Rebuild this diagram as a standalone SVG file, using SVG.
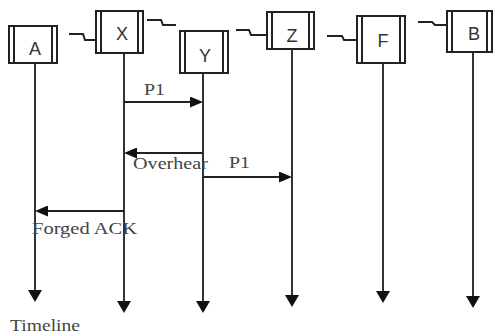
<svg xmlns="http://www.w3.org/2000/svg" width="493" height="334" viewBox="0 0 493 334">
<style>
.box{fill:#fff;stroke:#222;stroke-width:2}
.bar{stroke:#222;stroke-width:2}
.lbl{font-family:"Liberation Sans",Arial,sans-serif;font-size:18px;fill:#333;text-anchor:middle}
.life{stroke:#333;stroke-width:2;fill:none}
.msg{stroke:#222;stroke-width:2;fill:none}
.wig{stroke:#222;stroke-width:2;fill:none}
.mt{font-family:"Liberation Serif","Times New Roman",serif;font-size:16.5px;fill:#444}
</style>
<defs>
<marker id="tl" viewBox="0 0 12 14" refX="6" refY="7" markerWidth="12" markerHeight="14" markerUnits="userSpaceOnUse" orient="auto"><path d="M0,0 L12,7 L0,14 z" fill="#111"/></marker>
<marker id="ma" viewBox="0 0 13 11" refX="6" refY="5.5" markerWidth="13" markerHeight="11" markerUnits="userSpaceOnUse" orient="auto"><path d="M0,0 L13,5.5 L0,11 z" fill="#111"/></marker>
</defs>
<rect width="493" height="334" fill="#fff"/>
<g id="lifelines">
<line class="life" x1="35" y1="63" x2="35" y2="296" marker-end="url(#tl)"/>
<line class="life" x1="124" y1="53" x2="124" y2="307" marker-end="url(#tl)"/>
<line class="life" x1="203" y1="73" x2="203" y2="307" marker-end="url(#tl)"/>
<line class="life" x1="292" y1="49" x2="292" y2="301" marker-end="url(#tl)"/>
<line class="life" x1="383" y1="63" x2="383" y2="297" marker-end="url(#tl)"/>
<line class="life" x1="473" y1="52" x2="473" y2="302" marker-end="url(#tl)"/>
</g>
<g id="node-A"><rect class="box" x="9" y="26" width="48" height="37"/><line class="bar" x1="14" y1="26" x2="14" y2="63"/><line class="bar" x1="52" y1="26" x2="52" y2="63"/><text class="lbl" x="35" y="55">A</text></g>
<g id="node-X"><rect class="box" x="96" y="11" width="47" height="42"/><line class="bar" x1="101" y1="11" x2="101" y2="53"/><line class="bar" x1="138" y1="11" x2="138" y2="53"/><text class="lbl" x="122" y="40">X</text></g>
<g id="node-Y"><rect class="box" x="180" y="31" width="48" height="42"/><line class="bar" x1="185" y1="31" x2="185" y2="73"/><line class="bar" x1="223" y1="31" x2="223" y2="73"/><text class="lbl" x="205" y="62">Y</text></g>
<g id="node-Z"><rect class="box" x="267" y="12" width="47" height="37"/><line class="bar" x1="272" y1="12" x2="272" y2="49"/><line class="bar" x1="309" y1="12" x2="309" y2="49"/><text class="lbl" x="292" y="42">Z</text></g>
<g id="node-F"><rect class="box" x="357" y="16" width="48" height="47"/><line class="bar" x1="362" y1="16" x2="362" y2="63"/><line class="bar" x1="400" y1="16" x2="400" y2="63"/><text class="lbl" x="383" y="47">F</text></g>
<g id="node-B"><rect class="box" x="447" y="11" width="45" height="41"/><line class="bar" x1="452" y1="11" x2="452" y2="52"/><line class="bar" x1="487" y1="11" x2="487" y2="52"/><text class="lbl" x="474" y="40">B</text></g>
<g id="links">
<path class="wig" d="M69,34 H83 L85,40 H96"/>
<path class="wig" d="M147,20 H161 L163,25 H176"/>
<path class="wig" d="M236,30 H249 L251,35 H267"/>
<path class="wig" d="M327,36 H342 L344,40 H357"/>
<path class="wig" d="M418,22 H432 L435,25 H447"/>
</g>
<g id="connectors">
<line class="msg" x1="124" y1="102" x2="196" y2="102" marker-end="url(#ma)"/>
<line class="msg" x1="203" y1="153" x2="131" y2="153" marker-end="url(#ma)"/>
<line class="msg" x1="203" y1="177" x2="285" y2="177" marker-end="url(#ma)"/>
<line class="msg" x1="124" y1="211" x2="42" y2="211" marker-end="url(#ma)"/>
</g>
<g id="labels">
<text class="mt" x="144" y="95" textLength="21" lengthAdjust="spacingAndGlyphs">P1</text>
<text class="mt" x="133" y="169" textLength="75" lengthAdjust="spacingAndGlyphs">Overhear</text>
<text class="mt" x="229" y="168" textLength="21" lengthAdjust="spacingAndGlyphs">P1</text>
<text class="mt" x="32" y="234" textLength="105" lengthAdjust="spacingAndGlyphs">Forged ACK</text>
<text class="mt" x="10" y="331" textLength="70" lengthAdjust="spacingAndGlyphs">Timeline</text>
</g>
</svg>
